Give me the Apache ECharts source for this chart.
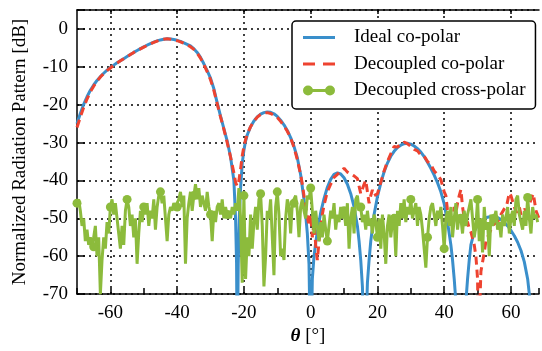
<!DOCTYPE html>
<html><head><meta charset="utf-8">
<script src="https://cdn.jsdelivr.net/npm/echarts@6/dist/echarts.min.js"></script>
<style>html,body{margin:0;padding:0;background:#fff}#c{width:542px;height:351px}</style>
</head><body><div id="c"></div>
<script>
// ---------- data ----------
const seriesNames = ['Ideal co-polar', 'Decoupled co-polar', 'Decoupled cross-polar'];
const xMajorTicks = [-60, -40, -20, 0, 20, 40, 60];

// Ideal co-polar: [theta (deg), level (dB)]
const ideal = [
[-70,-25],[-69,-22.3],[-68,-19.9],[-67,-17.9],[-66,-16.2],[-65,-14.8],[-64,-13.6],[-63,-12.6],[-62,-11.7],[-61,-10.9],
[-60,-10.2],[-59,-9.55],[-58,-8.95],[-57,-8.4],[-56,-7.85],[-55,-7.3],[-54,-6.75],[-53,-6.2],[-52,-5.7],[-51,-5.2],
[-50,-4.75],[-49,-4.3],[-48,-3.9],[-47,-3.5],[-46,-3.15],[-45,-2.9],[-44,-2.7],[-43,-2.6],[-42,-2.65],[-41,-2.8],
[-40,-3.0],[-39,-3.3],[-38,-3.7],[-37,-4.1],[-36,-4.5],[-35,-5.2],[-34,-6.2],[-33,-7.5],[-32,-9.2],[-31,-11],
[-30,-13],[-29,-15.8],[-28,-19.5],[-27,-23],[-26,-26.3],[-25,-29.6],[-24,-33.8],[-23,-40],[-22.5,-50],[-22.2,-62],
[-22,-90],[-21.7,-62],[-21.4,-50],[-21,-42],[-20.5,-35.5],[-20,-32],[-19.5,-29.6],[-19,-28],[-18,-25.8],[-17,-24.3],
[-16,-23.2],[-15,-22.5],[-14,-22.1],[-13,-21.9],[-12,-22],[-11,-22.4],[-10,-23.1],[-9,-24.1],[-8,-25.3],[-7,-26.8],
[-6,-28.7],[-5,-31],[-4,-34],[-3,-38.5],[-2,-45],[-1.5,-49],[-1,-54],[-0.5,-62],[0,-90],[0.5,-66],
[1,-60],[1.5,-56.5],[2,-53.5],[3,-48.5],[4,-44.8],[5,-41.8],[6,-39.7],[7,-38.4],[8,-38],[9,-38.3],
[10,-39.3],[11,-41],[12,-43.5],[13,-47],[14,-52],[14.5,-56],[15,-61],[15.5,-68],[16.2,-90],[17,-67],
[17.5,-61],[18,-56],[19,-49],[20,-44.3],[21,-40.7],[22,-37.7],[23,-35.4],[24,-33.6],[25,-32.3],[26,-31.3],
[27,-30.7],[28,-30.3],[29,-30.2],[30,-30.4],[31,-30.9],[32,-31.6],[33,-32.5],[34,-33.7],[35,-35.2],[36,-36.8],
[37,-38.6],[38,-40.6],[39,-43],[40,-46.2],[41,-51],[42,-57],[42.5,-61],[43,-66],[43.5,-72],[45,-90],
[46.5,-72],[47,-66],[47.5,-61],[48,-57],[49,-53.5],[50,-51.8],[51,-50.8],[52,-50.1],[53,-49.7],[54,-49.5],
[55,-49.5],[56,-49.8],[57,-50.3],[58,-51],[59,-52],[60,-53.2],[61,-54.6],[62,-56.3],[63,-58.5],[64,-61.5],
[65,-66],[65.5,-70],[66,-90],[68.4,-90]
];

// Decoupled co-polar: [theta (deg), level (dB)]
const decoupledCo = [
[-70,-26],[-69,-23.3],[-68,-20.7],[-67,-18.5],[-66,-16.6],[-65,-15.1],[-64,-13.8],[-63,-12.7],[-62,-11.8],[-61,-11],
[-60,-10.3],[-59,-9.6],[-58,-9],[-57,-8.4],[-56,-7.85],[-55,-7.3],[-54,-6.75],[-53,-6.2],[-52,-5.7],[-51,-5.25],
[-50,-4.8],[-49,-4.35],[-48,-3.95],[-47,-3.55],[-46,-3.2],[-45,-2.9],[-44,-2.7],[-43,-2.6],[-42,-2.7],[-41,-2.9],
[-40,-3.1],[-39,-3.4],[-38,-3.8],[-37,-4.2],[-36,-4.7],[-35,-5.4],[-34,-6.4],[-33,-7.7],[-32,-9.4],[-31,-11.3],
[-30,-13.4],[-29,-16.2],[-28,-19.8],[-27,-23.2],[-26,-26.5],[-25,-30],[-24,-33.8],[-23,-38],[-22.5,-40.5],[-22,-41.5],
[-21.5,-40],[-21,-37],[-20.5,-33.5],[-20,-31],[-19.5,-29.2],[-19,-27.8],[-18,-25.8],[-17,-24.3],[-16,-23.3],[-15,-22.6],
[-14,-22.2],[-13,-22.1],[-12,-22.3],[-11,-22.8],[-10,-23.4],[-9,-24.4],[-8,-25.6],[-7,-27],[-6,-28.8],[-5,-31.2],
[-4,-34.5],[-3,-38.5],[-2.5,-41],[-2,-44],[-1.5,-47],[-1,-49.5],[-0.5,-52],[0,-49],[0.5,-55],[1,-51],
[1.5,-57],[2,-61],[2.5,-56],[3,-52.5],[3.5,-49],[4,-46.5],[5,-43],[6,-41],[7,-39.2],[8,-38.4],
[9,-37.5],[10,-36.8],[11,-37.8],[12,-38.3],[13,-38.8],[14,-39.5],[14.5,-41.5],[15,-43.5],[15.5,-44],[16,-41],
[16.5,-40],[17,-43],[17.5,-46],[18,-44],[18.5,-42.5],[19,-44],[20,-43.5],[21,-40.5],[22,-37.5],[23,-35],
[24,-33],[25,-31],[26,-31.2],[27,-30.4],[28,-29.9],[29,-30.3],[30,-31],[31,-31.8],[32,-32.2],[33,-33.3],
[34,-33.6],[35,-35],[36,-35.8],[37,-37.5],[38,-38.5],[39,-39.8],[40,-43],[40.5,-44],[41,-48],[41.5,-50],
[42,-49],[42.5,-51],[43,-47],[43.5,-48.5],[44,-46],[44.5,-44],[45,-42.4],[45.5,-47],[46,-50],[47,-51],
[47.5,-52.7],[48,-53.6],[49,-57],[49.5,-60],[50,-66],[50.3,-90],[50.7,-72],[51,-64],[52,-59],[52.5,-56],
[53,-55],[54,-53],[55,-51.5],[56,-51],[57,-49],[58,-47.5],[58.7,-46.7],[59.5,-43.3],[60,-44],[61,-47],
[61.7,-48.5],[62.5,-47],[63,-49],[64,-47.6],[65,-48],[66,-45],[66.7,-43.5],[67.5,-48],[68.4,-50]
];

// Decoupled cross-polar: angles and levels
const crossTheta = [
-70,-69.5,-69,-68.5,-68,-67.5,-67,-66.5,-66,-65.5,
-65,-64.5,-64,-63.5,-63,-62.5,-62,-61.5,-61,-60.5,
-60,-59.5,-59,-58.5,-58,-57.5,-57,-56.5,-56,-55.5,
-55,-54.5,-54,-53.5,-53,-52.5,-52,-51.5,-51,-50.5,
-50,-49.5,-49,-48.5,-48,-47.5,-47,-46.5,-46,-45.5,
-45,-44.5,-44,-43.5,-43,-42.5,-42,-41.5,-41,-40.5,
-40,-39.5,-39,-38.5,-38,-37.5,-37,-36.5,-36,-35.5,
-35,-34.5,-34,-33.5,-33,-32.5,-32,-31.5,-31,-30.5,
-30,-29.5,-29,-28.5,-28,-27.5,-27,-26.5,-26,-25.5,
-25,-24.5,-24,-23.5,-23,-22.5,-22,-21.5,-21,-20.5,
-20,-19.5,-19,-18.5,-18,-17.5,-17,-16.5,-16,-15.5,
-15,-14.5,-14,-13.5,-13,-12.5,-12,-11.5,-11,-10.5,
-10,-9.5,-9,-8.5,-8,-7.5,-7,-6.5,-6,-5.5,
-5,-4.5,-4,-3.5,-3,-2.5,-2,-1.5,-1,-0.5,
0,0.5,1,1.5,2,2.5,3,3.5,4,4.5,
5,5.5,6,6.5,7,7.5,8,8.5,9,9.5,
10,10.5,11,11.5,12,12.5,13,13.5,14,14.5,
15,15.5,16,16.5,17,17.5,18,18.5,19,19.5,
20,20.5,21,21.5,22,22.5,23,23.5,24,24.5,
25,25.5,26,26.5,27,27.5,28,28.5,29,29.5,
30,30.5,31,31.5,32,32.5,33,33.5,34,34.5,
35,35.5,36,36.5,37,37.5,38,38.5,39,39.5,
40,40.5,41,41.5,42,42.5,43,43.5,44,44.5,
45,45.5,46,46.5,47,47.5,48,48.5,49,49.5,
50,50.5,51,51.5,52,52.5,53,53.5,54,54.5,
55,55.5,56,56.5,57,57.5,58,58.5,59,59.5,
60,60.5,61,61.5,62,62.5,63,63.5,64,64.5,
65,65.5,66,66.5,67,67.5,68
];
const crossDb = [
-46,-45,-48,-52,-50,-56,-53,-57,-55,-58,
-57.5,-52,-60,-55,-70,-61,-55,-58,-51,-54,
-47,-45,-49,-46,-50,-54,-58,-52,-57,-48,
-45,-47,-52,-49,-55,-50,-62,-54,-48,-51,
-47,-49,-46,-52,-48,-50,-45,-53,-47,-44,
-43,-46,-44,-50,-56,-49,-47,-48,-46,-47,
-47,-45,-43,-47,-44,-62,-50,-46,-43,-48,
-44,-41,-45,-42,-47,-44,-46,-48,-43,-47,
-49,-56,-48,-51,-47,-46,-49,-45,-50,-47,
-49,-48,-50,-47,-49,-46,-48,-42,-50,-67,
-44,-66,-55,-60,-49,-58,-51,-47,-53,-45,
-43.5,-52,-68,-60,-48,-50,-45,-55,-65,-47,
-43,-49,-60,-58,-61,-50,-45,-47,-54,-46,
-46,-44,-48,-55,-47,-45,-48,-50,-44,-45,
-42,-48,-54,-48,-52,-56,-51,-55,-49,-53,
-56,-52,-48,-50,-46,-53,-49,-51,-47,-50,
-48,-52,-46,-58,-50,-47,-54,-45,-44,-48,
-47,-51,-49,-53,-48,-52,-50,-54,-49,-51,
-55,-50,-58,-49,-54,-62,-52,-49,-55,-51,
-50,-60,-48,-52,-46,-50,-45,-51,-47,-49,
-45,-50,-48,-46,-52,-47,-49,-53,-58,-63,
-55,-50,-47,-46,-49,-52,-48,-50,-47,-52,
-58,-50,-48,-52,-47,-55,-50,-46,-53,-49,
-50,-54,-48,-52,-49,-47,-45,-50,-55,-52,
-45,-56,-50,-59,-47,-53,-51,-60,-49,-52,
-50,-48,-53,-51,-55,-49,-52,-50,-47,-54,
-50,-48,-52,-45,-44,-49,-51,-53,-48,-52,
-44.5,-50,-54,-47,-50,-49,-51
];

// ---------- chart ----------
const FONT = "'Liberation Serif','Times New Roman',serif";
const BLUE = '#3a8fcb', RED = '#ee4330', GREEN = '#8cbb3c';
const dotted = {color: '#000', type: [2, 4], width: 1.5};
// legend glyphs (degenerate points at y=0 and y=10 fix the glyph box height)
const ICON_LINE = 'path://M0,0L0.01,0L0,0.01ZM0,3.5L32,3.5L32,6.5L0,6.5ZM0,10L0.01,10L0,9.99Z';
const ICON_DASH = 'path://M0,0L0.01,0L0,0.01ZM0,3.5L12,3.5L12,6.5L0,6.5ZM20,3.5L32,3.5L32,6.5L20,6.5ZM0,10L0.01,10L0,9.99Z';
const ICON_MARK = 'path://M0,5A5,5 0 1,1 10,5A5,5 0 1,1 0,5ZM22,5A5,5 0 1,1 32,5A5,5 0 1,1 22,5ZM5,3.5L27,3.5L27,6.5L5,6.5Z';

const chart = echarts.init(document.getElementById('c'), null, {renderer: 'canvas'});
chart.setOption({
  animation: false,
  backgroundColor: '#fff',
  grid: {left: 77, top: 10, right: 0, bottom: 51, containLabel: false},
  xAxis: [{
    type: 'value', min: -70, max: 68.4, interval: 10, position: 'bottom',
    axisLine: {show: true, onZero: false, lineStyle: {color: '#000', width: 1.5}},
    axisTick: {show: true, inside: true, length: 6, lineStyle: {color: '#000', width: 1.5}},
    axisLabel: {
      formatter: v => (Math.abs(v % 20) < 1e-9 ? String(v) : ''),
      color: '#000', fontFamily: FONT, fontSize: 19, margin: 9
    },
    splitLine: {show: true, lineStyle: {color: ['rgba(0,0,0,0)', '#000'], type: [2, 4], width: 1.5}},
    name: '{b|θ} [°]', nameLocation: 'middle', nameGap: 31,
    nameTextStyle: {fontFamily: FONT, fontSize: 19, color: '#000',
      rich: {b: {fontFamily: FONT, fontSize: 19, fontWeight: 'bold', fontStyle: 'italic', color: '#000'}}}
  }, {
    type: 'value', min: -70, max: 68.4, position: 'top',
    axisLine: {show: true, onZero: false, lineStyle: {color: '#000', width: 1.5}},
    axisTick: {show: true, inside: true, length: 4, customValues: xMajorTicks, lineStyle: {color: '#000', width: 1.5}},
    axisLabel: {show: false},
    splitLine: {show: false}
  }],
  yAxis: {
    type: 'value', min: -70, max: 5, interval: 10,
    axisLine: {show: true, onZero: false, lineStyle: {color: '#000', width: 1.5}},
    axisTick: {show: true, inside: true, length: 8, lineStyle: {color: '#000', width: 1.5}},
    axisLabel: {formatter: v => (v > 0 ? '' : String(v)), color: '#000', fontFamily: FONT, fontSize: 19, margin: 9},
    splitLine: {show: true, lineStyle: dotted},
    name: 'Normalized Radiation Pattern [dB]', nameLocation: 'middle', nameGap: 47,
    nameTextStyle: {fontFamily: FONT, fontSize: 19, color: '#000'}
  },
  legend: {
    orient: 'vertical', left: 292, top: 21,
    padding: [7, 10, 9, 11], itemGap: 7.5, itemWidth: 32, itemHeight: 10,
    borderColor: '#000', borderWidth: 1.5, borderRadius: 4, backgroundColor: '#fff',
    textStyle: {fontFamily: FONT, fontSize: 19, color: '#000', padding: [0, 0, 0, 14]},
    data: [
      {name: seriesNames[0], icon: ICON_LINE, itemStyle: {color: BLUE, borderWidth: 0}},
      {name: seriesNames[1], icon: ICON_DASH, itemStyle: {color: RED, borderWidth: 0}},
      {name: seriesNames[2], icon: ICON_MARK, itemStyle: {color: GREEN, borderWidth: 0}}
    ]
  },
  series: [{
    name: seriesNames[0], type: 'line', data: ideal, symbol: 'none', showSymbol: false,
    lineStyle: {color: BLUE, width: 3}, itemStyle: {color: BLUE}, clip: true, z: 3
  }, {
    name: seriesNames[1], type: 'line', data: decoupledCo, symbol: 'none', showSymbol: false,
    lineStyle: {color: RED, width: 3, type: [8, 5]}, itemStyle: {color: RED}, clip: true, z: 4
  }, {
    name: seriesNames[2], type: 'line', data: crossTheta.map((t, i) => [t, crossDb[i]]),
    symbol: (v, p) => (p.dataIndex % 10 === 0 ? 'circle' : 'none'), symbolSize: 9, showSymbol: true, showAllSymbol: true,
    lineStyle: {color: GREEN, width: 3}, itemStyle: {color: GREEN, borderWidth: 0}, clip: true, z: 5
  }]
});
</script></body></html>
